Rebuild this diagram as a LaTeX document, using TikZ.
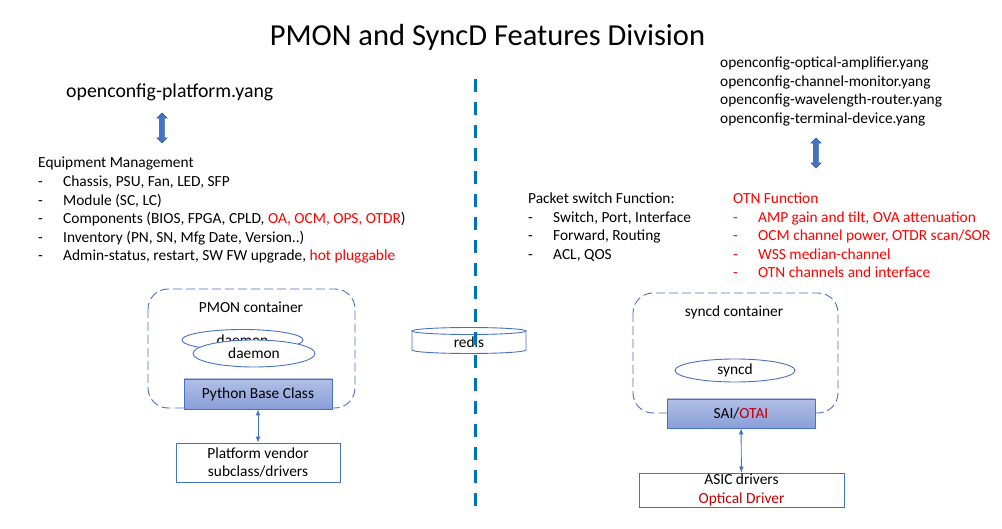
\documentclass[tikz,border=0pt]{standalone}
\usepackage{fontspec}
\setmainfont{Carlito}
\usepackage{xcolor}
\definecolor{msblue}{HTML}{4472C4}
\definecolor{msdark}{HTML}{2F528F}
\definecolor{lineblue}{HTML}{0070C0}
\definecolor{hotred}{HTML}{FF0000}
\definecolor{darkred}{HTML}{C00000}
\definecolor{classtop}{HTML}{B1BFE6}
\definecolor{classbot}{HTML}{8A9ED8}
\usepackage{tikz}
\usetikzlibrary{shapes.geometric,shapes.arrows,arrows.meta}

\newcommand{\lidash}{\makebox[25pt][l]{-}}

\begin{document}
\begin{tikzpicture}[x=1pt,y=-1pt]

\useasboundingbox (0,0) rectangle (1002,529);

\tikzstyle{title}=[
	font=\fontsize{30.5}{36}\selectfont,
	inner sep=0pt,
	anchor=base
]
\tikzstyle{txt}=[
	font=\fontsize{15.4}{18}\selectfont,
	inner sep=0pt,
	anchor=base west
]
\tikzstyle{redtxt}=[txt, color=hotred]
\tikzstyle{cont}=[
	draw=msblue,
	line width=0.9pt,
	dash pattern=on 9pt off 4pt,
	rounded corners=20pt
]
\tikzstyle{ell}=[
	ellipse,
	draw=msblue,
	line width=0.9pt,
	fill=white,
	inner sep=0pt,
	font=\fontsize{15.4}{18}\selectfont
]
\tikzstyle{cls}=[
	rectangle,
	draw=msblue,
	line width=0.9pt,
	top color=classtop,
	bottom color=classbot,
	inner sep=0pt,
	font=\fontsize{15.4}{18}\selectfont
]
\tikzstyle{box}=[
	rectangle,
	draw=msblue,
	line width=0.9pt,
	fill=white,
	align=center,
	inner sep=0pt,
	font=\fontsize{15.4}{18.5}\selectfont
]
\tikzstyle{dblarr}=[
	double arrow,
	rotate=90,
	draw=msdark,
	fill=msblue,
	inner sep=2.5pt,
	double arrow head extend=2.5pt,
	minimum height=30pt
]
\tikzstyle{arr}=[{Latex[length=6pt,width=5pt]}-{Latex[length=6pt,width=5pt]},
	msblue, line width=0.9pt]
\tikzstyle{divider}=[lineblue, line width=3pt, dash pattern=on 13pt off 10pt]

\node[title] (title) at (487.5,46) {PMON and SyncD Features Division};

% PMON side
\node[txt, font=\fontsize{19.8}{23}\selectfont] (yangplat) at (66,98)
	{openconfig-platform.yang};
\node[dblarr] (arrplat) at (162,128) {};

\node[txt] (eqhead) at (38,168) {Equipment Management};
\node[txt] (eq1) at (38,187) {\lidash Chassis, PSU, Fan, LED, SFP};
\node[txt] (eq2) at (38,205.5) {\lidash Module (SC, LC)};
\node[txt] (eq3) at (38,224) {\lidash Components (BIOS, FPGA, CPLD,
	\textcolor{hotred}{OA, OCM, OPS, OTDR})};
\node[txt] (eq4) at (38,242.5) {\lidash Inventory (PN, SN, Mfg Date, Version..)};
\node[txt] (eq5) at (38,261) {\lidash Admin-status, restart, SW FW upgrade,
	\textcolor{hotred}{hot pluggable}};

\draw[cont] (148,289) rectangle (355,408);
\node[txt, anchor=base] (pmonlbl) at (251,313) {PMON container};
\node[ell, minimum width=121pt, minimum height=21pt] (dmn1) at (242.5,340) {daemon};
\node[ell, minimum width=122pt, minimum height=27pt] (dmn2) at (254,353.5) {daemon};
\node[cls, minimum width=148pt, minimum height=30pt] (pbc) at (258,394)
	{Python Base Class};
\node[box, minimum width=164pt, minimum height=39pt] (vendor) at (258,462.5)
	{Platform vendor\\subclass/drivers};
\draw[arr] (pbc) -- (vendor);

% redis in the middle
\draw[msblue, line width=0.9pt, fill=white] (412,331) -- (412,350)
	arc[start angle=180, end angle=360, x radius=57pt, y radius=3.5pt] -- (526,331);
\draw[msblue, line width=0.9pt] (469,331) ellipse[x radius=57pt, y radius=3.5pt];
\node[txt, anchor=base] (redis) at (469,348) {redis};

\coordinate (divtop) at (475,79);
\coordinate (divbot) at (475,508);
\draw[divider] (divtop) -- (divbot);

% SyncD side
\node[txt] (yang1) at (720,68) {openconfig-optical-amplifier.yang};
\node[txt] (yang2) at (720,86.5) {openconfig-channel-monitor.yang};
\node[txt] (yang3) at (720,105) {openconfig-wavelength-router.yang};
\node[txt] (yang4) at (720,123.5) {openconfig-terminal-device.yang};
\node[dblarr] (arryang) at (816,153) {};

\node[txt] (pkthead) at (528,204) {Packet switch Function:};
\node[txt] (pkt1) at (528,222.5) {\lidash Switch, Port, Interface};
\node[txt] (pkt2) at (528,241) {\lidash Forward, Routing};
\node[txt] (pkt3) at (528,259.5) {\lidash ACL, QOS};

\node[redtxt] (otnhead) at (733,204) {OTN Function};
\node[redtxt] (otn1) at (733,222.5) {\lidash AMP gain and tilt, OVA attenuation};
\node[redtxt] (otn2) at (733,241) {\lidash OCM channel power, OTDR scan/SOR};
\node[redtxt] (otn3) at (733,259.5) {\lidash WSS median-channel};
\node[redtxt] (otn4) at (733,278) {\lidash OTN channels and interface};

\draw[cont] (633,293) rectangle (838,413);
\node[txt, anchor=base] (syncdlbl) at (734,317) {syncd container};
\node[ell, minimum width=120pt, minimum height=23pt] (syncd) at (735,370.5) {syncd};
\node[cls, minimum width=148pt, minimum height=29pt] (sai) at (741,413.5)
	{SAI/\textcolor{darkred}{OTAI}};
\node[box, minimum width=205pt, minimum height=34pt] (asic) at (741.5,490)
	{ASIC drivers\\\textcolor{darkred}{Optical Driver}};
\draw[arr] (sai) -- (asic);

\end{tikzpicture}
\end{document}
